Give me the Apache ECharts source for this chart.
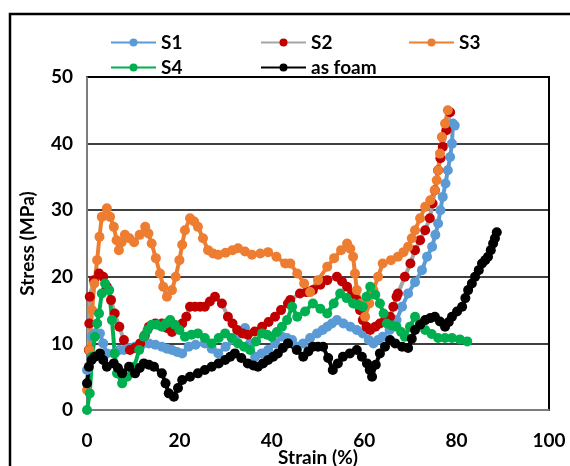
<!DOCTYPE html>
<html>
<head>
<meta charset="utf-8">
<script src="https://cdn.jsdelivr.net/npm/echarts@6/dist/echarts.min.js"></script>
<style>
    html, body { margin: 0; padding: 0; background: #fff; }
    .chart { width: 570px; height: 466px; }
</style>
</head>
<body>
<div class="chart"></div>
<script>
// 数据 (strain %, stress MPa)
const s1 = [[0,6],[0.5,9],[1,11],[1.7,11.5],[2.8,11.5],[3.5,10],[4.3,8.5],[5.8,8.5],[7,9],[8,9],[9.2,9.3],[10.4,9.5],[11.8,9.8],[13.4,10],[14.8,9.8],[16.2,9.5],[17.3,9.2],[18.4,9],[19.5,8.7],[20.6,8.5],[22,9.5],[23.5,9.8],[25.5,10],[27,9.2],[28.4,8.5],[30,9.5],[32,10.5],[33.2,11.5],[34.2,12.3],[35.3,10],[36.4,8],[37.8,8.5],[39.2,9],[40.7,10],[42.2,11],[43.3,10.8],[44.4,10.5],[45.5,9.5],[46.8,10],[48.3,10.8],[49.8,11.5],[51,12],[52,12.5],[53,13],[54.1,13.5],[55.5,13],[57,12.5],[58.4,12],[59.7,11.5],[61,10.5],[62,10],[63,10.5],[64,11],[65.5,12],[67,13.5],[68.2,15.5],[69.5,17.5],[71,19.2],[72.5,21],[73.6,23],[74.7,24.5],[75.4,26.3],[76,28],[76.5,30],[77,32],[77.6,34],[78.1,36],[78.6,38],[79,40],[79.2,43],[79.6,42.7]]
const s2 = [[0.4,9],[0.5,13],[0.6,17],[1.5,19.5],[2.6,20.5],[3.5,20],[4.3,18.5],[5.2,16.5],[6,14.5],[7,12.5],[8,10.5],[9.3,9],[10.4,9.3],[11.5,10],[12.5,11.2],[13.4,12.5],[14.8,13],[16.2,13],[17.3,12.3],[18.4,11.7],[19.5,12.3],[20.6,13],[21.5,14],[22.3,15.5],[23.4,15.5],[24.5,15.5],[25.5,15.5],[26.6,16.3],[27.7,17],[29.2,16],[30.5,14],[31.5,13],[32.5,12],[33.7,11.5],[34.8,11.3],[36.3,11.8],[37.9,12.5],[39.3,13.2],[40.7,14],[42,15],[43.5,16],[44,16.5],[46.1,17.5],[47.5,17.7],[48.9,18],[50.5,18.8],[52,19.5],[54.1,20],[55.2,19.3],[56.3,18.5],[57.4,17.5],[58.4,16.5],[59.1,15],[59.7,13.5],[60.5,12.5],[61.3,12],[62.4,12.5],[63.4,13],[64.5,13.5],[65.6,14],[66.3,15.5],[67,17],[67.3,17.5],[68.8,20],[70,22],[71,24],[72.1,25.5],[73.2,27],[74.2,28.8],[74.8,31],[75.3,33],[76,36],[76.5,37.8],[77,39.5],[77.8,42],[78.6,44.7]]
const s3 = [[0,3],[0.5,9],[1.1,15],[1.6,19],[2.2,22.5],[2.7,26],[3.2,29],[4.3,30.3],[5,29],[5.8,27.5],[6.4,25.5],[6.9,24],[7.5,25.2],[8.2,26.3],[9.2,25.8],[10.2,25.2],[11.4,26.3],[12.6,27.5],[13.3,26.5],[14,25],[14.9,22.8],[15.8,20.5],[16.5,18.5],[17.3,17],[18.4,18],[19.2,20],[20,22.5],[20.6,24.8],[21.2,27],[22.3,28.8],[23.2,28.3],[24,27.5],[25.1,25.8],[26.2,24],[27.3,23.5],[28.4,23.3],[30,23.6],[31.5,24],[32.7,24.3],[34.2,23.8],[35.7,23.3],[37.5,23.5],[39.2,23.7],[41,23],[42.9,22],[44,22],[45.5,20.5],[47,19],[48.3,17.7],[50,19.5],[52,21.5],[53.5,22.8],[55,24],[56.3,25],[57,24.2],[57.6,23],[58,20.5],[58.4,18],[59.3,16],[60.2,14],[61.1,16],[62,18],[63,20],[64,22],[65.8,22.5],[67.3,23],[68.5,23.7],[69.5,24.5],[70.3,25.8],[71,27],[72.1,28.8],[73.2,30.5],[74.3,31.5],[75.3,33],[75.7,34.5],[76,36],[76.4,38.5],[76.8,41],[77.5,43],[78.1,45]]
const s4 = [[0,0],[0.6,2.5],[1.1,8],[1.7,11],[2.2,13],[2.6,14.5],[3.2,17.5],[3.9,19],[4.8,18],[5.4,13.5],[6,8.5],[6.5,5.5],[7.6,4],[8.7,5],[10.2,6.5],[11.3,9],[12.3,11],[13.1,12],[14,12.8],[15.1,12.8],[16.2,12.5],[17.1,13],[18,13.5],[19,12.8],[20,12],[21.2,11],[22.6,11.3],[24,11.5],[25.5,10.8],[27,10],[28.5,10.8],[29.9,11.5],[31.3,10.8],[32.7,10],[34,9.5],[35.3,9],[36.6,10.3],[37.9,11.5],[39,11.3],[40,11],[41.1,11.7],[42.2,12.5],[43.3,13.5],[44.4,15.5],[45.5,14],[47.2,14.8],[48.9,16],[50.5,15.2],[52,14.5],[53.4,16],[54.8,17.5],[56.2,16.8],[57.6,16],[58.6,15.8],[59.7,15.5],[60.5,17],[61.3,18.5],[62.4,17.3],[63.4,16],[64.2,14.5],[64.9,13],[66,12.7],[67,12.5],[68,11.7],[68.8,11],[69.9,12.5],[71,14],[72.1,13],[73.2,12],[74.6,11.4],[76,10.8],[77.5,10.8],[79,10.8],[80.7,10.6],[82.3,10.3]]
const foam = [[0,4],[0.4,6.5],[1,7.5],[1.7,8],[2.8,8.5],[3.5,7.5],[4.3,6.5],[5.8,7],[6.7,6.3],[7.6,5.5],[9.1,6.5],[10.4,5.5],[11.4,6.3],[12.3,7],[13.4,6.8],[14.5,6.5],[16.2,5.5],[17,4],[17.7,2.5],[18.8,2],[19.7,3.3],[20.6,4.5],[22.3,5],[24,5.5],[25.5,6],[27,6.5],[28.5,7],[29.9,7.5],[31,8],[32,8.5],[33.4,7.8],[34.8,7],[36,6.7],[37,6.5],[38.1,7],[39.2,7.5],[40.3,8],[41.3,8.5],[42.4,9.3],[43.5,10],[45.4,9],[46.8,8],[47.9,8.8],[48.9,9.5],[50,9.5],[51.1,9.5],[52.2,7.8],[53.2,6],[54.3,7],[55.4,8],[56.9,8.5],[58.4,9],[59.5,8],[60.6,7],[61.2,6],[61.7,5],[62.5,6.8],[63.4,8.5],[64.5,9.5],[65.6,10.5],[66.7,10],[68.2,9.5],[69.5,9.3],[70.3,10.7],[71,12],[72.1,12.8],[73.2,13.5],[74.3,13.8],[75.3,14],[76.4,13.3],[77.5,12.5],[78.3,13.2],[79,14],[80.1,14.8],[81.2,15.5],[81.9,16.8],[82.5,18],[83.3,19],[84,20],[84.8,21],[85.5,22],[86.2,22.5],[86.8,23],[87.4,24],[87.9,25],[88.3,25.8],[88.7,26.7]]

const names = ['S1', 'S2', 'S3', 'S4', 'as foam']
const font = 'Lato, "Open Sans", sans-serif'

;(function () {
    const myChart = echarts.init(document.querySelector('.chart'))

    function line(name, data, lineColor, dotColor) {
        return {
            name: name,
            type: 'line',
            data: data,
            symbol: 'circle',
            symbolSize: 10,
            lineStyle: { color: lineColor, width: 4 },
            itemStyle: { color: dotColor },
            emphasis: { disabled: true }
        }
    }

    const textStyle = { fontFamily: font, fontWeight: 'bold', fontSize: 19, color: '#000' }

    // 图例：两行三列，每项单独定位
    const legendPos = [[105, 28], [255, 28], [403, 28], [105, 53], [255, 53]]
    const legends = names.map(function (n, i) {
        return {
            data: [n],
            left: legendPos[i][0], top: legendPos[i][1],
            itemWidth: 45, itemHeight: 10,
            textStyle: textStyle
        }
    })

    const option = {
        animation: false,
        legend: legends,
        graphic: [
            {
                type: 'rect',
                shape: { x: 10, y: 14, width: 580, height: 480 },
                style: { fill: 'none', stroke: '#000', lineWidth: 2.5 },
                silent: true
            },
            {
                // x 轴标题，压在刻度文字下方
                type: 'text',
                x: 318, y: 458,
                style: Object.assign({ text: 'Strain (%)', align: 'center', verticalAlign: 'middle' }, {
                    font: 'bold 19px ' + font, fill: '#000'
                }),
                silent: true
            }
        ],
        grid: {
            left: 87, right: 21, top: 77, bottom: 56,
            outerBoundsMode: 'none',
            show: true,
            borderColor: '#000',
            borderWidth: 2
        },
        xAxis: {
            type: 'value',
            min: 0, max: 100, interval: 20,
            axisLine: { lineStyle: { color: '#a6a6a6', width: 1.5 } },
            axisTick: { show: false },
            splitLine: { show: false },
            axisLabel: Object.assign({ margin: 21 }, textStyle)
        },
        yAxis: {
            type: 'value',
            min: 0, max: 50, interval: 10,
            name: 'Stress (MPa)',
            nameLocation: 'middle',
            nameGap: 50,
            nameTextStyle: textStyle,
            axisLine: { show: true, lineStyle: { color: '#a6a6a6', width: 1.5 } },
            axisTick: { show: false },
            splitLine: { lineStyle: { color: '#000', width: 1.5 } },
            axisLabel: Object.assign({ margin: 14 }, textStyle)
        },
        series: [
            line('S1', s1, '#5b9bd5', '#5b9bd5'),
            line('S2', s2, '#a5a5a5', '#c00000'),
            line('S3', s3, '#ed7d31', '#ed7d31'),
            line('S4', s4, '#00b050', '#00b050'),
            line('as foam', foam, '#000', '#000')
        ]
    }
    myChart.setOption(option)
})()
</script>
</body>
</html>
